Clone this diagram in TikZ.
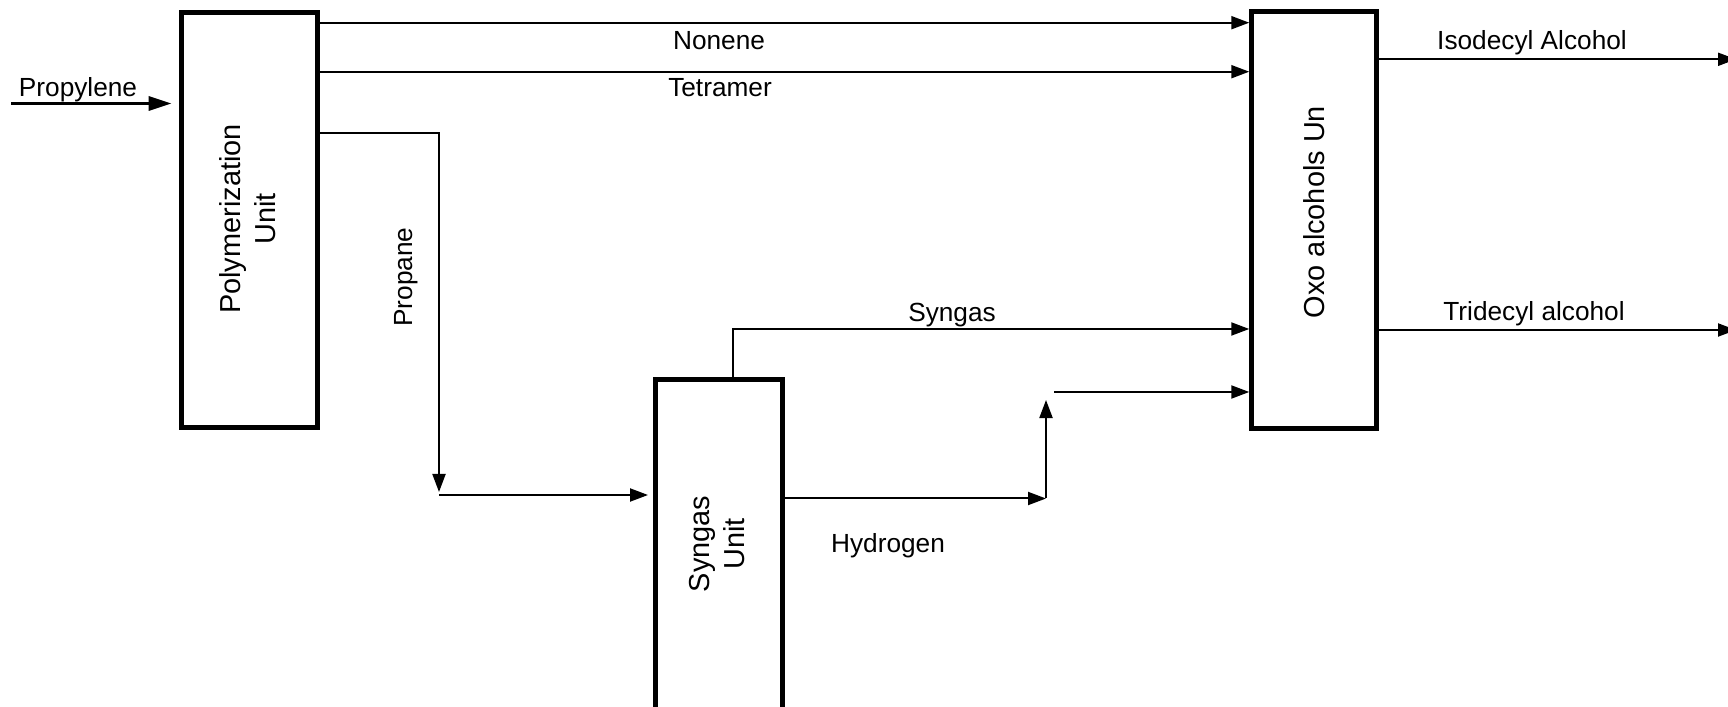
\documentclass[tikz,border=0pt]{standalone}
\usepackage{fontspec}
\setmainfont{Liberation Sans}
\usetikzlibrary{arrows.meta}
\tikzset{
	unitbox/.style={draw=black, line width=0.05cm, fill=white, inner sep=0pt},
	flow/.style={-{Triangle[length=0.18cm,width=0.13cm]}, line width=0.02cm},
	feed/.style={-{Triangle[length=0.23cm,width=0.14cm]}, line width=0.033cm},
	lbl/.style={font=\fontsize{7.46}{9}\selectfont, inner sep=0pt, anchor=base},
	unitlbl/.style={font=\fontsize{8.22}{9.96}\selectfont, align=center,
		rotate=90, inner sep=0pt},
}

\begin{document}
\begin{tikzpicture}[x=0.01cm, y=-0.01cm]
	\useasboundingbox (0,0) rectangle (1728,707);
	\clip (0,0) rectangle (1728,707);
	\node[unitbox, minimum width=1.36cm, minimum height=4.15cm] (poly) at (249.5,220) {};
	\node[unitbox, minimum width=1.25cm, minimum height=4.164cm] (oxo) at (1314.3,220) {};
	\node[unitbox, minimum width=1.273cm, minimum height=3.61cm] (syn) at (718.9,560) {};
	\node[unitlbl] (polytxt) at (247.5,219) {Polymerization\\Unit};
	\node[unitlbl] (oxotxt) at (1314,212) {Oxo alcohols Un};
	\node[unitlbl] (syntxt) at (717,544) {Syngas\\Unit};

	\node[lbl] (propl) at (78,96.7) {Propylene};
	\node[lbl] (nonl) at (719,49.3) {Nonene};
	\node[lbl] (tetl) at (720,96.7) {Tetramer};
	\node[lbl, rotate=90] (prl) at (412,277) {Propane};
	\node[lbl] (sgl) at (952,321.5) {Syngas};
	\node[lbl] (hyl) at (888,553) {Hydrogen};
	\node[lbl] (isol) at (1532,49.3) {Isodecyl Alcohol};
	\node[lbl] (tril) at (1534,320.7) {Tridecyl alcohol};

	\coordinate (propin) at (11,103.5);
	\coordinate (nonY) at (0,22.7);
	\coordinate (tetY) at (0,71.7);
	\coordinate (prbend) at (439,133);
	\coordinate (prdrop) at (439,492);
	\coordinate (prfeed) at (439,495);
	\coordinate (sgY) at (733,329);
	\coordinate (hyY) at (0,498.5);
	\coordinate (hyturn) at (1046,498.5);
	\coordinate (hytop) at (1046,400);
	\coordinate (hyin) at (1054,392);
	\coordinate (isoY) at (1736,59.3);
	\coordinate (triY) at (1736,330);

	\draw[feed, shorten >=0.073cm] (propin) -- (poly.west |- propin);
	\draw[flow] (poly.east |- nonY) -- (oxo.west |- nonY);
	\draw[flow] (poly.east |- tetY) -- (oxo.west |- tetY);
	\draw[flow] (poly.east |- prbend) -- (prbend) -- (prdrop);
	\draw[flow, shorten >=0.047cm] (prfeed) -- (syn.west |- prfeed);
	\draw[flow] (syn.north -| sgY) -- (sgY) -- (oxo.west |- sgY);
	\draw[flow] (syn.east |- hyY) -- (hyturn);
	\draw[flow] (hyturn) -- (hytop);
	\draw[flow] (hyin) -- (oxo.west |- hyin);
	\draw[flow] (oxo.east |- isoY) -- (isoY);
	\draw[flow] (oxo.east |- triY) -- (triY);
\end{tikzpicture}
\end{document}
